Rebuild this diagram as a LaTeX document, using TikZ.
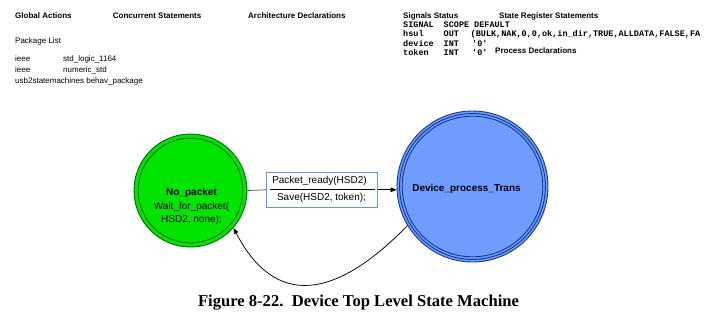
\documentclass[tikz,border=0pt]{standalone}
\usepackage{fontspec}
\setmainfont{Liberation Sans}
\setmonofont{Liberation Mono}
\newfontfamily\capfont{Liberation Serif}
\usetikzlibrary{arrows.meta}

\definecolor{stgreen}{RGB}{0,228,0}
\definecolor{stgreenline}{RGB}{0,105,0}
\definecolor{stblue}{RGB}{112,155,255}
\definecolor{stblueline}{RGB}{18,58,140}
\definecolor{transframe}{RGB}{100,150,240}

\tikzset{
  hdr/.style={anchor=base west, inner sep=0pt, font=\bfseries\fontsize{8}{9.6}\selectfont},
  txt/.style={anchor=base west, inner sep=0pt, font=\fontsize{8}{9.6}\selectfont},
  mono/.style={anchor=base west, inner sep=0pt, font=\ttfamily\bfseries\fontsize{8.5}{10}\selectfont},
  statetxt/.style={anchor=base, inner sep=0pt, font=\fontsize{10}{12}\selectfont},
  conn/.style={draw=black, line width=0.75pt},
  tip/.style={-{Triangle[length=6pt,width=4.6pt]}},
}

\begin{document}
\begin{tikzpicture}[x=1pt,y=-1pt]
\useasboundingbox (0,0) rectangle (720,321);

% header blocks
\node[hdr] (ga) at (15,18.3) {Global Actions};
\node[hdr] (cs) at (112.7,18.3) {Concurrent Statements};
\node[hdr] (ad) at (248,18.3) {Architecture Declarations};
\node[txt] (pl) at (15,43.5) {Package List};
\node[txt] (lib1) at (15,62) {ieee};
\node[txt] (pkg1) at (63,62) {std\_logic\_1164};
\node[txt] (lib2) at (15,72.5) {ieee};
\node[txt] (pkg2) at (63,72.5) {numeric\_std};
\node[txt] (lib3) at (15,83) {usb2statemachines behav\_package};

\node[hdr] (ss) at (403,18.3) {Signals Status};
\node[hdr] (srs) at (499,18.3) {State Register Statements};

% signal table
\node[mono] (c1h) at (403,27.5) {SIGNAL};
\node[mono] (c2h) at (443.5,27.5) {SCOPE};
\node[mono] (c3h) at (474,27.5) {DEFAULT};
\node[mono] (c1a) at (403,37) {hsul};
\node[mono] (c2a) at (443.5,37) {OUT};
\node[mono] (c3a) at (470.5,37) {(BULK,NAK,0,0,ok,in\_dir,TRUE,ALLDATA,FALSE,FA};
\node[mono] (c1b) at (403,46.5) {device};
\node[mono] (c2b) at (443.5,46.5) {INT};
\node[mono] (c3b) at (472,46.5) {'0'};
\node[mono] (c1c) at (403,56) {token};
\node[mono] (c2c) at (443.5,56) {INT};
\node[mono] (c3c) at (472,56) {'0'};
\node[hdr] (pd) at (495,53.3) {Process Declarations};

% states
\node[circle, minimum size=113pt, inner sep=0pt, fill=stgreen,
      draw=stgreenline, line width=0.9pt] (nopkt) at (190.5,190.5) {};
\draw[stgreenline, line width=0.9pt] (nopkt.center) circle (52.3pt);
\node[statetxt, font=\bfseries\fontsize{10}{12}\selectfont] (np1) at (191.5,195.7) {No\_packet};
\node[statetxt] (np2) at (191.5,209.3) {Wait\_for\_packet(};
\node[statetxt] (np3) at (191.5,222.7) {HSD2, none);};

\node[circle, minimum size=151pt, inner sep=0pt, fill=stblue,
      draw=stblueline, line width=0.9pt] (devproc) at (472.5,186.5) {};
\draw[stblueline, line width=0.9pt] (devproc.center) circle (72.9pt);
\draw[stblueline, line width=0.9pt] (devproc.center) circle (70.3pt);
\node[statetxt, font=\bfseries\fontsize{10}{12}\selectfont] (dp) at (466.5,191.7) {Device\_process\_Trans};

% transition with condition and action
\node[draw=transframe, line width=0.9pt, minimum width=110.6pt, minimum height=35pt,
      inner sep=0pt] (trans) at (322,189.8) {};
\node[statetxt] (cond) at (319.5,183.5) {Packet\_ready(HSD2)};
\node[statetxt] (act) at (321.5,200) {Save(HSD2, token);};
\coordinate (divL) at (270,189);
\coordinate (divR) at (375,189);
\draw[conn] (divL) -- (divR);

\draw[conn, draw=black!70] (nopkt.east) -- (trans.west);
\draw[conn, tip] (trans.east) -- (trans.east -| devproc.west);

% return transition
\draw[conn, tip] (devproc.211) .. controls (335,300) and (275,308) .. (nopkt.-41);

% caption
\node[anchor=base, inner sep=0pt, font=\capfont\bfseries\fontsize{16.6}{19}\selectfont] (cap)
  at (358.5,306) {Figure 8-22.\ \ Device Top Level State Machine};
\end{tikzpicture}
\end{document}
